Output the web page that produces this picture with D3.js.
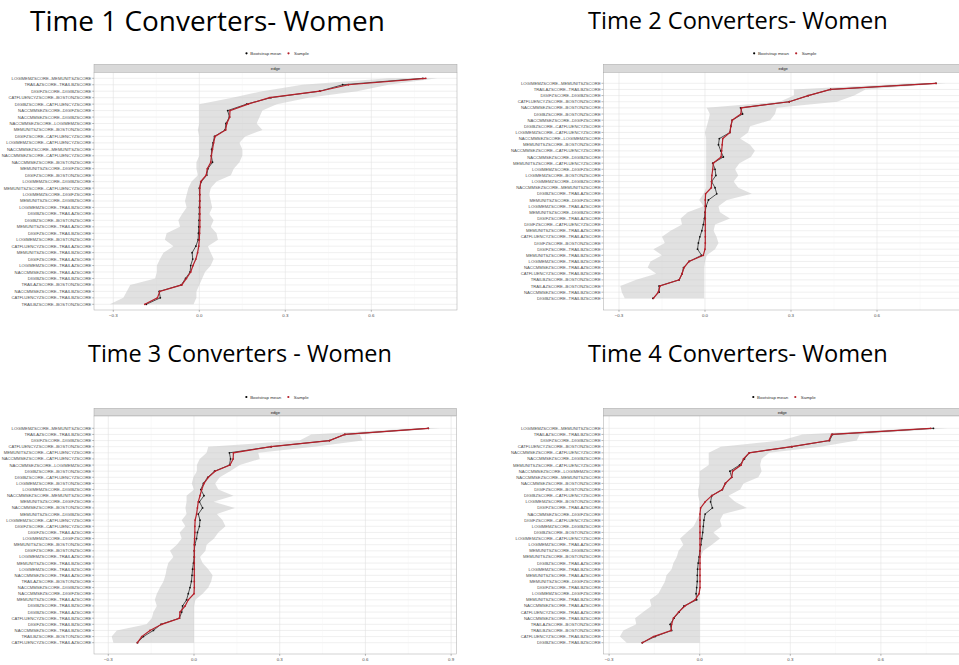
<!DOCTYPE html>
<html><head><meta charset="utf-8">
<script src="https://cdn.jsdelivr.net/npm/d3@7"></script>
<style>body{margin:0;background:#fff}svg{display:block}</style>
</head><body>
<svg id="chart" width="959" height="665"></svg>
<script>
// ---------- data ----------
const xTicks = [-0.3, 0, 0.3, 0.6, 0.9];
const xMinorTicks = [-0.15, 0.15, 0.45, 0.75];
const legendLabels = ["Bootstrap mean", "Sample"];
const stripLabel = "edge";
const titles = ["Time 1 Converters- Women", "Time 2 Converters- Women", "Time 3 Converters - Women", "Time 4 Converters- Women"];

const edges1 = ["LOGIMEMZSCORE--MEMUNITSZSCORE","TRAILAZSCORE--TRAILBZSCORE","DIGIFZSCORE--DIGIBZSCORE","CATFLUENCYZSCORE--BOSTONZSCORE","DIGIBZSCORE--CATFLUENCYZSCORE","NACCMMSEZSCORE--DIGIFZSCORE","NACCMMSEZSCORE--DIGIBZSCORE","NACCMMSEZSCORE--LOGIMEMZSCORE","MEMUNITSZSCORE--BOSTONZSCORE","DIGIFZSCORE--CATFLUENCYZSCORE","LOGIMEMZSCORE--CATFLUENCYZSCORE","NACCMMSEZSCORE--MEMUNITSZSCORE","NACCMMSEZSCORE--CATFLUENCYZSCORE","NACCMMSEZSCORE--BOSTONZSCORE","MEMUNITSZSCORE--DIGIFZSCORE","DIGIFZSCORE--BOSTONZSCORE","LOGIMEMZSCORE--DIGIBZSCORE","MEMUNITSZSCORE--CATFLUENCYZSCORE","LOGIMEMZSCORE--DIGIFZSCORE","MEMUNITSZSCORE--DIGIBZSCORE","LOGIMEMZSCORE--TRAILBZSCORE","DIGIBZSCORE--TRAILAZSCORE","DIGIBZSCORE--BOSTONZSCORE","MEMUNITSZSCORE--TRAILAZSCORE","DIGIFZSCORE--TRAILBZSCORE","LOGIMEMZSCORE--BOSTONZSCORE","CATFLUENCYZSCORE--TRAILAZSCORE","MEMUNITSZSCORE--TRAILBZSCORE","DIGIFZSCORE--TRAILAZSCORE","LOGIMEMZSCORE--TRAILAZSCORE","NACCMMSEZSCORE--TRAILAZSCORE","DIGIBZSCORE--TRAILBZSCORE","TRAILAZSCORE--BOSTONZSCORE","NACCMMSEZSCORE--TRAILBZSCORE","CATFLUENCYZSCORE--TRAILBZSCORE","TRAILBZSCORE--BOSTONZSCORE"];
const sample1 = [0.79,0.52,0.42,0.245,0.17,0.107,0.106,0.096,0.092,0.055,0.050,0.046,0.042,0.040,0.028,0.024,0.005,0.002,0.002,0.002,0.002,0.002,0.002,0.002,0.001,0.0,-0.002,-0.006,-0.012,-0.022,-0.030,-0.045,-0.061,-0.138,-0.146,-0.190];
const boot1 = [0.78,0.50,0.42,0.25,0.165,0.099,0.105,0.093,0.090,0.053,0.048,0.043,0.042,0.046,0.030,0.026,0.007,0.0,0.001,0.001,0.0,0.0,-0.001,-0.002,-0.003,-0.004,-0.012,-0.025,-0.023,-0.030,-0.032,-0.048,-0.063,-0.140,-0.136,-0.185];
const lower1 = [0.66,0.36,0.22,0.115,0.0,0.0,0.0,0.0,-0.005,0.0,0.0,0.0,0.0,-0.01,-0.01,-0.005,-0.027,-0.038,-0.044,-0.05,-0.044,-0.06,-0.073,-0.067,-0.114,-0.12,-0.09,-0.125,-0.137,-0.148,-0.148,-0.154,-0.241,-0.253,-0.265,-0.312];
const upper1 = [0.83,0.66,0.55,0.38,0.27,0.22,0.21,0.20,0.22,0.16,0.14,0.15,0.15,0.14,0.12,0.11,0.06,0.04,0.035,0.04,0.045,0.035,0.05,0.04,0.06,0.065,0.03,0.04,0.05,0.04,0.02,0.01,0.0,-0.01,-0.01,-0.02];

const edges2 = ["LOGIMEMZSCORE--MEMUNITSZSCORE","TRAILAZSCORE--TRAILBZSCORE","DIGIFZSCORE--DIGIBZSCORE","CATFLUENCYZSCORE--BOSTONZSCORE","NACCMMSEZSCORE--BOSTONZSCORE","DIGIBZSCORE--BOSTONZSCORE","NACCMMSEZSCORE--DIGIFZSCORE","DIGIBZSCORE--CATFLUENCYZSCORE","LOGIMEMZSCORE--CATFLUENCYZSCORE","NACCMMSEZSCORE--LOGIMEMZSCORE","MEMUNITSZSCORE--BOSTONZSCORE","NACCMMSEZSCORE--CATFLUENCYZSCORE","NACCMMSEZSCORE--DIGIBZSCORE","MEMUNITSZSCORE--CATFLUENCYZSCORE","LOGIMEMZSCORE--DIGIFZSCORE","LOGIMEMZSCORE--BOSTONZSCORE","LOGIMEMZSCORE--DIGIBZSCORE","NACCMMSEZSCORE--MEMUNITSZSCORE","DIGIBZSCORE--TRAILAZSCORE","MEMUNITSZSCORE--DIGIFZSCORE","LOGIMEMZSCORE--TRAILAZSCORE","MEMUNITSZSCORE--DIGIBZSCORE","DIGIFZSCORE--TRAILAZSCORE","DIGIFZSCORE--CATFLUENCYZSCORE","MEMUNITSZSCORE--TRAILAZSCORE","CATFLUENCYZSCORE--TRAILAZSCORE","DIGIFZSCORE--BOSTONZSCORE","DIGIFZSCORE--TRAILBZSCORE","MEMUNITSZSCORE--TRAILBZSCORE","LOGIMEMZSCORE--TRAILBZSCORE","NACCMMSEZSCORE--TRAILAZSCORE","CATFLUENCYZSCORE--TRAILBZSCORE","TRAILBZSCORE--BOSTONZSCORE","TRAILAZSCORE--BOSTONZSCORE","NACCMMSEZSCORE--TRAILBZSCORE","DIGIBZSCORE--TRAILBZSCORE"];
const sample2 = [0.806,0.438,0.36,0.294,0.127,0.125,0.095,0.09,0.087,0.062,0.060,0.058,0.056,0.029,0.027,0.024,0.023,0.022,0.002,0.001,0.001,0.001,0.001,0.001,0.001,0.001,0.001,0.0,-0.006,-0.056,-0.073,-0.08,-0.09,-0.157,-0.163,-0.18];
const boot2 = [0.806,0.438,0.36,0.294,0.124,0.131,0.095,0.09,0.087,0.05,0.047,0.055,0.064,0.027,0.035,0.038,0.023,0.035,0.041,0.012,0.004,0.0,-0.002,-0.006,-0.011,-0.018,-0.023,-0.026,-0.012,-0.055,-0.075,-0.08,-0.09,-0.16,-0.16,-0.182];
const lower2 = [0.72,0.31,0.31,0.26,0.006,0.017,0.012,0.006,0.0,0.004,0.004,0.004,0.004,0.004,0.004,0.004,0.004,0.004,-0.005,-0.02,-0.005,-0.06,-0.085,-0.08,-0.12,-0.15,-0.14,-0.18,-0.15,-0.19,-0.2,-0.17,-0.24,-0.295,-0.29,-0.28];
const upper2 = [0.84,0.56,0.52,0.46,0.25,0.244,0.227,0.157,0.15,0.122,0.157,0.174,0.16,0.12,0.105,0.116,0.10,0.116,0.163,0.076,0.047,0.052,0.087,0.035,0.03,0.04,0.047,0.035,0.006,0.0,-0.003,-0.003,-0.003,-0.003,-0.003,-0.003];

const edges3 = ["LOGIMEMZSCORE--MEMUNITSZSCORE","TRAILAZSCORE--TRAILBZSCORE","DIGIFZSCORE--DIGIBZSCORE","CATFLUENCYZSCORE--BOSTONZSCORE","MEMUNITSZSCORE--CATFLUENCYZSCORE","NACCMMSEZSCORE--CATFLUENCYZSCORE","NACCMMSEZSCORE--LOGIMEMZSCORE","DIGIBZSCORE--BOSTONZSCORE","DIGIBZSCORE--CATFLUENCYZSCORE","LOGIMEMZSCORE--BOSTONZSCORE","LOGIMEMZSCORE--DIGIBZSCORE","NACCMMSEZSCORE--MEMUNITSZSCORE","MEMUNITSZSCORE--DIGIFZSCORE","NACCMMSEZSCORE--BOSTONZSCORE","MEMUNITSZSCORE--DIGIBZSCORE","LOGIMEMZSCORE--CATFLUENCYZSCORE","DIGIFZSCORE--CATFLUENCYZSCORE","DIGIFZSCORE--TRAILAZSCORE","LOGIMEMZSCORE--DIGIFZSCORE","MEMUNITSZSCORE--BOSTONZSCORE","DIGIFZSCORE--BOSTONZSCORE","LOGIMEMZSCORE--TRAILAZSCORE","MEMUNITSZSCORE--TRAILBZSCORE","LOGIMEMZSCORE--TRAILBZSCORE","NACCMMSEZSCORE--TRAILAZSCORE","TRAILAZSCORE--BOSTONZSCORE","NACCMMSEZSCORE--DIGIBZSCORE","NACCMMSEZSCORE--DIGIFZSCORE","MEMUNITSZSCORE--TRAILAZSCORE","DIGIBZSCORE--TRAILBZSCORE","DIGIBZSCORE--TRAILAZSCORE","CATFLUENCYZSCORE--TRAILBZSCORE","DIGIFZSCORE--TRAILBZSCORE","NACCMMSEZSCORE--TRAILBZSCORE","TRAILBZSCORE--BOSTONZSCORE","CATFLUENCYZSCORE--TRAILAZSCORE"];
const sample3 = [0.82,0.528,0.474,0.27,0.138,0.137,0.126,0.074,0.05,0.035,0.027,0.021,0.015,0.012,0.009,0.004,0.003,0.003,0.002,0.001,0.001,0.001,0.001,0.001,0.001,0.001,0.001,0.0,-0.02,-0.031,-0.049,-0.051,-0.113,-0.154,-0.183,-0.198];
const boot3 = [0.82,0.528,0.474,0.27,0.124,0.128,0.124,0.072,0.048,0.033,0.024,0.035,0.019,0.03,0.015,0.021,0.019,0.012,0.009,0.003,0.001,0.001,-0.002,-0.005,-0.007,-0.009,-0.014,-0.02,-0.026,-0.04,-0.043,-0.051,-0.116,-0.142,-0.177,-0.198];
const lower3 = [0.78,0.41,0.37,0.05,0.044,0.02,0.01,0.01,-0.002,-0.008,0.0,-0.026,-0.026,-0.03,-0.026,-0.043,-0.03,-0.05,-0.043,-0.06,-0.084,-0.072,-0.09,-0.096,-0.1,-0.107,-0.119,-0.13,-0.137,-0.13,-0.142,-0.148,-0.166,-0.27,-0.288,-0.282];
const upper3 = [0.86,0.58,0.59,0.42,0.225,0.23,0.16,0.126,0.09,0.074,0.085,0.138,0.068,0.143,0.08,0.10,0.11,0.085,0.07,0.044,0.04,0.021,0.03,0.05,0.065,0.06,0.05,0.03,0.005,0.0,0.0,0.0,0.0,0.0,0.0,0.0];

const edges4 = ["LOGIMEMZSCORE--MEMUNITSZSCORE","TRAILAZSCORE--TRAILBZSCORE","DIGIFZSCORE--DIGIBZSCORE","CATFLUENCYZSCORE--BOSTONZSCORE","NACCMMSEZSCORE--CATFLUENCYZSCORE","NACCMMSEZSCORE--DIGIBZSCORE","MEMUNITSZSCORE--CATFLUENCYZSCORE","NACCMMSEZSCORE--LOGIMEMZSCORE","NACCMMSEZSCORE--MEMUNITSZSCORE","NACCMMSEZSCORE--BOSTONZSCORE","DIGIFZSCORE--BOSTONZSCORE","DIGIBZSCORE--CATFLUENCYZSCORE","LOGIMEMZSCORE--BOSTONZSCORE","DIGIFZSCORE--TRAILAZSCORE","NACCMMSEZSCORE--DIGIFZSCORE","DIGIFZSCORE--CATFLUENCYZSCORE","LOGIMEMZSCORE--DIGIBZSCORE","DIGIBZSCORE--BOSTONZSCORE","LOGIMEMZSCORE--CATFLUENCYZSCORE","LOGIMEMZSCORE--TRAILAZSCORE","MEMUNITSZSCORE--DIGIBZSCORE","MEMUNITSZSCORE--BOSTONZSCORE","DIGIBZSCORE--TRAILAZSCORE","LOGIMEMZSCORE--TRAILBZSCORE","MEMUNITSZSCORE--TRAILAZSCORE","MEMUNITSZSCORE--DIGIFZSCORE","DIGIFZSCORE--TRAILBZSCORE","LOGIMEMZSCORE--DIGIFZSCORE","MEMUNITSZSCORE--TRAILBZSCORE","NACCMMSEZSCORE--TRAILAZSCORE","CATFLUENCYZSCORE--TRAILAZSCORE","NACCMMSEZSCORE--TRAILBZSCORE","TRAILAZSCORE--BOSTONZSCORE","TRAILBZSCORE--BOSTONZSCORE","CATFLUENCYZSCORE--TRAILBZSCORE","DIGIBZSCORE--TRAILBZSCORE"];
const sample4 = [0.765,0.437,0.428,0.305,0.164,0.145,0.137,0.109,0.106,0.085,0.075,0.04,0.018,0.003,0.001,0.001,0.001,0.001,0.001,0.001,0.001,0.001,0.001,0.001,0.001,0.001,0.001,-0.002,-0.015,-0.049,-0.07,-0.087,-0.093,-0.095,-0.153,-0.19];
const boot4 = [0.774,0.44,0.43,0.305,0.164,0.148,0.132,0.1,0.106,0.085,0.075,0.04,0.036,0.042,0.018,0.014,0.012,0.01,0.007,0.004,0.001,-0.002,-0.005,-0.007,-0.008,-0.008,-0.01,-0.012,-0.01,-0.052,-0.068,-0.085,-0.098,-0.093,-0.148,-0.19];
const lower4 = [0.72,0.34,0.27,0.07,0.03,0.03,0.03,0.0,0.0,0.0,-0.005,-0.005,0.0,0.0,0.0,-0.01,-0.02,-0.043,-0.065,-0.054,-0.07,-0.076,-0.087,-0.093,-0.11,-0.115,-0.126,-0.137,-0.165,-0.16,-0.187,-0.214,-0.21,-0.253,-0.264,-0.242];
const upper4 = [0.82,0.53,0.52,0.40,0.23,0.205,0.2,0.205,0.194,0.145,0.134,0.095,0.117,0.156,0.078,0.067,0.073,0.045,0.067,0.04,0.012,0.003,0.0,0.0,0.0,0.0,0.0,0.0,0.0,0.0,0.0,0.0,0.0,0.0,0.0,0.0];

// ---------- layout ----------
const panels = [
  {edges:edges1, sample:sample1, boot:boot1, lower:lower1, upper:upper1, title:titles[0],
   left:94, right:457, top:72.3, bottom:310, stripTop:64.3, zero:199.3, unit:286.7, rowFirst:78.3, rowLast:304.3,
   legendY:53.3, titleX:30, titleY:31, titleW:355},
  {edges:edges2, sample:sample2, boot:boot2, lower:lower2, upper:upper2, title:titles[1],
   left:603.3, right:963, top:72.3, bottom:310, stripTop:64.3, zero:705, unit:286.7, rowFirst:83.3, rowLast:298.3,
   legendY:53.3, titleX:588, titleY:29, titleW:300},
  {edges:edges3, sample:sample3, boot:boot3, lower:lower3, upper:upper3, title:titles[2],
   left:94, right:456.7, top:416, bottom:654, stripTop:408.3, zero:194, unit:285.7, rowFirst:428.3, rowLast:642.7,
   legendY:397, titleX:88, titleY:362, titleW:304},
  {edges:edges4, sample:sample4, boot:boot4, lower:lower4, upper:upper4, title:titles[3],
   left:603.3, right:961.3, top:416, bottom:654, stripTop:408.3, zero:699.7, unit:302, rowFirst:428.3, rowLast:642.7,
   legendY:397, titleX:588, titleY:362, titleW:300}
];

const svg = d3.select("#chart");
const FONT = "'Liberation Sans', Arial, Helvetica, sans-serif";
const RED = "#b5202a";

panels.forEach((p, pi) => {
  const g = svg.append("g");
  const x = d3.scaleLinear().domain([0, 1]).range([p.zero, p.zero + p.unit]);
  const y = d3.scalePoint().domain(p.edges).range([p.rowFirst, p.rowLast]);
  const rows = p.edges.map((e, i) => ({e, s:p.sample[i], b:p.boot[i], lo:p.lower[i], hi:p.upper[i]}));

  // title
  const t = g.append("text").attr("x", p.titleX).attr("y", p.titleY)
    .attr("font-family", "'Open Sans', 'Liberation Sans', sans-serif")
    .attr("font-size", 26).attr("fill", "#000").text(p.title);
  const w = t.node().getComputedTextLength();
  t.attr("font-size", 26 * p.titleW / w);

  // legend
  const cx = (p.left + Math.min(p.right, 959)) / 2;
  const cxl = (p.left + p.right) / 2 + 2;
  const lg = g.append("g").attr("font-family", FONT).attr("font-size", 4.4).attr("fill", "#333");
  const l0 = cxl - 31;
  lg.append("circle").attr("cx", l0).attr("cy", p.legendY).attr("r", 1.1).attr("fill", "#000");
  lg.append("text").attr("x", l0 + 3.8).attr("y", p.legendY + 1.5).text(legendLabels[0]);
  lg.append("circle").attr("cx", l0 + 42).attr("cy", p.legendY).attr("r", 1.1).attr("fill", RED);
  lg.append("text").attr("x", l0 + 47.5).attr("y", p.legendY + 1.5).text(legendLabels[1]);

  // strip
  g.append("rect").attr("x", p.left).attr("y", p.stripTop).attr("width", p.right - p.left)
    .attr("height", p.top - p.stripTop).attr("fill", "#d9d9d9").attr("stroke", "#a6a6a6").attr("stroke-width", 0.5);
  g.append("text").attr("x", (p.left + p.right) / 2).attr("y", (p.stripTop + p.top) / 2 + 1.4)
    .attr("text-anchor", "middle").attr("font-family", FONT).attr("font-size", 4.2).attr("fill", "#1a1a1a").text(stripLabel);

  // panel background + grid
  g.append("rect").attr("x", p.left).attr("y", p.top).attr("width", p.right - p.left)
    .attr("height", p.bottom - p.top).attr("fill", "#fff");
  const clipId = "clip" + pi;
  g.append("clipPath").attr("id", clipId).append("rect")
    .attr("x", p.left).attr("y", p.top).attr("width", p.right - p.left).attr("height", p.bottom - p.top);
  const pg = g.append("g").attr("clip-path", `url(#${clipId})`);
  pg.selectAll("line.hg").data(p.edges).join("line")
    .attr("x1", p.left).attr("x2", p.right).attr("y1", d => y(d)).attr("y2", d => y(d))
    .attr("stroke", "#e6e6e6").attr("stroke-width", 0.6);
  pg.selectAll("line.vm").data(xMinorTicks).join("line")
    .attr("x1", d => x(d)).attr("x2", d => x(d)).attr("y1", p.top).attr("y2", p.bottom)
    .attr("stroke", "#f2f2f2").attr("stroke-width", 0.4);
  pg.selectAll("line.vg").data(xTicks).join("line")
    .attr("x1", d => x(d)).attr("x2", d => x(d)).attr("y1", p.top).attr("y2", p.bottom)
    .attr("stroke", "#e3e3e3").attr("stroke-width", 0.6);

  // ribbon
  const area = d3.area().y(d => y(d.e)).x0(d => x(d.lo)).x1(d => x(d.hi));
  pg.append("path").datum(rows).attr("d", area).attr("fill", "#c4c4c4").attr("fill-opacity", 0.5);

  // bootstrap mean
  const lineB = d3.line().y(d => y(d.e)).x(d => x(d.b));
  pg.append("path").datum(rows).attr("d", lineB).attr("fill", "none").attr("stroke", "#111").attr("stroke-width", 0.7);
  pg.selectAll("circle.b").data(rows).join("circle").attr("class", "b")
    .attr("cx", d => x(d.b)).attr("cy", d => y(d.e)).attr("r", 0.9).attr("fill", "#111");

  // sample
  const lineS = d3.line().y(d => y(d.e)).x(d => x(d.s));
  pg.append("path").datum(rows).attr("d", lineS).attr("fill", "none").attr("stroke", RED).attr("stroke-width", 1.2);
  pg.selectAll("circle.s").data(rows).join("circle").attr("class", "s")
    .attr("cx", d => x(d.s)).attr("cy", d => y(d.e)).attr("r", 0.9).attr("fill", RED);

  // border
  g.append("rect").attr("x", p.left).attr("y", p.top).attr("width", p.right - p.left)
    .attr("height", p.bottom - p.top).attr("fill", "none").attr("stroke", "#a6a6a6").attr("stroke-width", 0.5);

  // y axis
  const ya = g.append("g").attr("font-family", FONT).attr("font-size", 4.2).attr("fill", "#4d4d4d");
  ya.selectAll("text").data(p.edges).join("text")
    .attr("x", p.left - 2.6).attr("y", d => y(d) + 1.5).attr("text-anchor", "end").text(d => d);
  ya.selectAll("line").data(p.edges).join("line")
    .attr("x1", p.left - 1.8).attr("x2", p.left).attr("y1", d => y(d)).attr("y2", d => y(d))
    .attr("stroke", "#4d4d4d").attr("stroke-width", 0.4);

  // x axis
  const vis = xTicks.filter(v => x(v) >= p.left - 0.5 && x(v) <= Math.min(p.right, 958));
  const xa = g.append("g").attr("font-family", FONT).attr("font-size", 4.4).attr("fill", "#4d4d4d");
  xa.selectAll("text").data(vis).join("text")
    .attr("x", d => x(d)).attr("y", p.bottom + 6.8).attr("text-anchor", "middle").text(d => d3.format(".1f")(d));
  xa.selectAll("line").data(vis).join("line")
    .attr("x1", d => x(d)).attr("x2", d => x(d)).attr("y1", p.bottom).attr("y2", p.bottom + 1.8)
    .attr("stroke", "#4d4d4d").attr("stroke-width", 0.4);
});
</script>
</body></html>
